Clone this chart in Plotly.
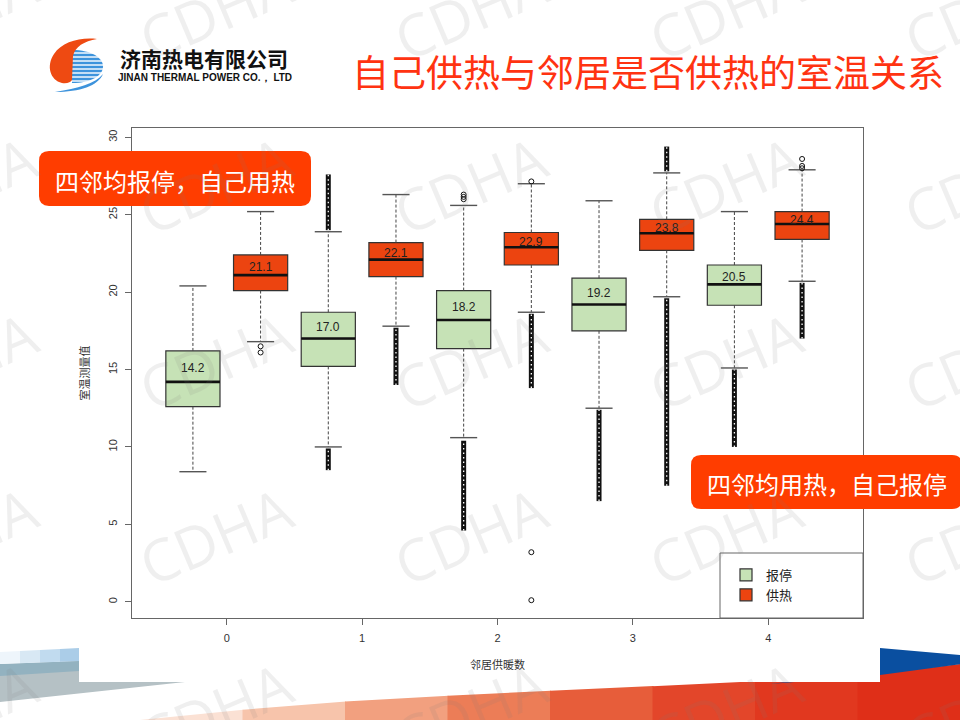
import numpy as np
import plotly.graph_objects as go

# ---------------- data ----------------
groups = [0, 1, 2, 3, 4]
tick_text = ["0", "1", "2", "3", "4"]
series_names = ["报停", "供热"]

stop_q1 = [12.6, 15.2, 16.35, 17.5, 19.15]
stop_median = [14.2, 17.0, 18.2, 19.2, 20.5]
stop_q3 = [16.2, 18.7, 20.1, 20.9, 21.75]
stop_low = [8.4, 10.0, 10.6, 12.5, 15.1]
stop_high = [20.4, 23.9, 25.6, 25.9, 25.2]

heat_q1 = [20.1, 21.0, 21.75, 22.7, 23.4]
heat_median = [21.1, 22.1, 22.9, 23.8, 24.4]
heat_q3 = [22.4, 23.2, 23.85, 24.7, 25.2]
heat_low = [16.8, 17.8, 18.7, 19.7, 20.7]
heat_high = [25.2, 26.3, 27.0, 27.7, 27.9]

# dense runs of outliers (group, lowest, highest)
stop_run_group = [1, 1, 2, 3, 4]
stop_run_lo = [24.0, 8.5, 4.6, 6.5, 10.0]
stop_run_hi = [27.6, 9.9, 10.4, 12.4, 15.0]
heat_run_group = [1, 2, 3, 3, 4]
heat_run_lo = [14.0, 13.8, 7.5, 27.8, 17.0]
heat_run_hi = [17.7, 18.6, 19.6, 29.4, 20.6]

# isolated outliers
stop_pt_group = [2, 2, 2]
stop_pt_y = [26.0, 26.15, 26.3]
heat_pt_group = [0, 0, 2, 2, 2, 4, 4, 4]
heat_pt_y = [16.1, 16.5, 27.15, 3.2, 0.1, 28.0, 28.15, 28.6]

# ---------------- styling ----------------
GREEN = "#C6E2B6"
RED = "#EC4410"
CJK = "Noto Sans CJK SC"
LAT = "Liberation Sans, Arial, sans-serif"
OFF = 0.25
BOXW = 0.4
CAPW = 0.2

# plot area in pixels (for decoration helpers)
PL, PT, PR, PB = 132, 128, 863, 618
PW, PH = PR - PL, PB - PT


def px(x):
    return (x - PL) / PW


def py(y):
    return (PB - y) / PH


def pathp(cmds):
    out = []
    for c in cmds:
        op = c[0]
        pts = " ".join(f"{px(a):.5f},{py(b):.5f}" for a, b in c[1:])
        out.append(op + pts)
    return " ".join(out)


def rrect(x0, y0, x1, y1, r):
    return pathp([
        ("M", (x0 + r, y0)), ("L", (x1 - r, y0)), ("Q", (x1, y0), (x1, y0 + r)),
        ("L", (x1, y1 - r)), ("Q", (x1, y1), (x1 - r, y1)), ("L", (x0 + r, y1)),
        ("Q", (x0, y1), (x0, y1 - r)), ("L", (x0, y0 + r)), ("Q", (x0, y0), (x0 + r, y0)),
    ]) + " Z"


def txt(cx, cy, text, font, angle=0):
    return dict(xref="paper", yref="paper", x=px(cx), y=py(cy), text=text, showarrow=False,
                xanchor="center", yanchor="middle", textangle=angle, font=font)


fig = go.Figure()

series = [
    (series_names[0], -OFF, GREEN, stop_q1, stop_median, stop_q3, stop_low, stop_high,
     stop_run_group, stop_run_lo, stop_run_hi, stop_pt_group, stop_pt_y),
    (series_names[1], OFF, RED, heat_q1, heat_median, heat_q3, heat_low, heat_high,
     heat_run_group, heat_run_lo, heat_run_hi, heat_pt_group, heat_pt_y),
]

annotations = []

for (name, off, col, q1, med, q3, lo, hi, rg, rlo, rhi, pg, pyv) in series:
    xs = [g + off for g in groups]
    fig.add_trace(go.Box(
        x=xs, q1=q1, median=med, q3=q3, lowerfence=q1, upperfence=q3,
        name=name, fillcolor=col, line=dict(color="#333333", width=1.2),
        width=BOXW, hoverinfo="skip", showlegend=True,
    ))

for (name, off, col, q1, med, q3, lo, hi, rg, rlo, rhi, pg, pyv) in series:
    xs = [g + off for g in groups]
    # dashed whiskers
    wx, wy = [], []
    for x, a, b, c, d in zip(xs, q1, q3, lo, hi):
        wx += [x, x, None, x, x, None]
        wy += [b, d, None, a, c, None]
    fig.add_trace(go.Scatter(x=wx, y=wy, mode="lines", showlegend=False, hoverinfo="skip",
                             line=dict(color="#444444", width=1, dash="3px,2px")))
    # caps
    cx, cy = [], []
    for x, c, d in zip(xs, lo, hi):
        cx += [x - CAPW / 2, x + CAPW / 2, None, x - CAPW / 2, x + CAPW / 2, None]
        cy += [d, d, None, c, c, None]
    fig.add_trace(go.Scatter(x=cx, y=cy, mode="lines", showlegend=False, hoverinfo="skip",
                             line=dict(color="#555555", width=1.4)))
    # medians
    mx, my = [], []
    for x, m in zip(xs, med):
        mx += [x - BOXW / 2, x + BOXW / 2, None]
        my += [m, m, None]
    fig.add_trace(go.Scatter(x=mx, y=my, mode="lines", showlegend=False, hoverinfo="skip",
                             line=dict(color="#111111", width=2.6)))
    # dense outlier runs
    ox, oy = [], []
    for g, a, b in zip(rg, rlo, rhi):
        ox += [g + off, g + off, None]
        oy += [a, b, None]
    fig.add_trace(go.Scatter(x=ox, y=oy, mode="lines", showlegend=False, hoverinfo="skip",
                             line=dict(color="#111111", width=5)))
    fig.add_trace(go.Scatter(x=ox, y=oy, mode="lines", showlegend=False, hoverinfo="skip",
                             line=dict(color="#ffffff", width=1.3, dash="1.5px,3px")))
    # isolated outliers
    fig.add_trace(go.Scatter(x=[g + off for g in pg], y=pyv, mode="markers", showlegend=False,
                             hoverinfo="skip",
                             marker=dict(symbol="circle-open", size=5, color="#111111",
                                         line=dict(width=1))))
    # median labels
    for x, m, t in zip(xs, med, q3):
        annotations.append(dict(x=x, y=(m + t) / 2, xref="x", yref="y", text=f"{m:.1f}",
                                showarrow=False, yshift=-2, xanchor="center", yanchor="middle",
                                font=dict(family=LAT, size=12, color="#222222")))

# ---------------- decorations ----------------
shapes = []

# bottom-left bands
lb = [("#eef5fb", 0, 20), ("#d8e8f4", 20, 40), ("#c1dbef", 40, 60), ("#abcde8", 60, 79)]
shapes.append(dict(type="path", xref="paper", yref="paper", layer="below", line=dict(width=0),
                   fillcolor="#b5c1c5",
                   path=pathp([("M", (0, 664)), ("L", (79, 661)), ("L", (79, 682)),
                               ("L", (185, 682)), ("L", (0, 702))]) + " Z"))
shapes.append(dict(type="path", xref="paper", yref="paper", layer="below", line=dict(width=0),
                   fillcolor="#93b2c0",
                   path=pathp([("M", (0, 664)), ("L", (79, 661)), ("L", (79, 671)),
                               ("L", (0, 676))]) + " Z"))
for c, a, b in lb:
    ta = 652 - 4 * a / 79
    tb = 652 - 4 * b / 79
    ba = 664 - 3 * a / 79
    bb = 664 - 3 * b / 79
    shapes.append(dict(type="path", xref="paper", yref="paper", layer="below", line=dict(width=0),
                       fillcolor=c,
                       path=pathp([("M", (a, ta)), ("L", (b, tb)), ("L", (b, bb)), ("L", (a, ba))]) + " Z"))

# bottom-right red/orange swoosh (sliced to imitate gradient)
edge_x = [140, 300, 480, 700, 880, 960]
edge_y = [720, 704, 694, 684, 675, 664]
red_cols = ["#fbe1d4", "#f7c4ab", "#f2a07f", "#ec7d57", "#e75d3a", "#e3462a", "#e1381f", "#df2f18"]
cuts = np.linspace(140, 960, len(red_cols) + 1)
for i, c in enumerate(red_cols):
    a, b = cuts[i], cuts[i + 1] + 1
    ta, tb = np.interp(a, edge_x, edge_y), np.interp(b, edge_x, edge_y)
    shapes.append(dict(type="path", xref="paper", yref="paper", layer="below", line=dict(width=0),
                       fillcolor=c,
                       path=pathp([("M", (a, ta)), ("L", (b, tb)), ("L", (b, 721)), ("L", (a, 721))]) + " Z"))
shapes.append(dict(type="path", xref="paper", yref="paper", layer="below", line=dict(width=0),
                   fillcolor="#0a4fa0",
                   path=pathp([("M", (880, 648)), ("L", (961, 655)), ("L", (961, 664)),
                               ("L", (880, 675)), ("L", (770, 684)), ("L", (880, 671))]) + " Z"))
# white panel of the chart picture
shapes.append(dict(type="rect", xref="paper", yref="paper", layer="below", line=dict(width=0),
                   fillcolor="#ffffff", x0=px(79), x1=px(880), y0=py(682), y1=py(640)))

# logo
shapes.append(dict(type="path", xref="paper", yref="paper", layer="above", line=dict(width=0),
                   fillcolor="#3d93dc",
                   path=pathp([("M", (72, 50)), ("C", (92, 50), (103, 58), (103, 66.5)),
                               ("C", (103, 75), (92, 83), (72, 83))]) + " Z"))
for yy in [53, 57, 61, 65, 69, 73, 77, 81]:
    shapes.append(dict(type="line", xref="paper", yref="paper", layer="above",
                       line=dict(color="#ffffff", width=1.4),
                       x0=px(72), x1=px(104), y0=py(yy), y1=py(yy)))
shapes.append(dict(type="path", xref="paper", yref="paper", layer="above", line=dict(width=0),
                   fillcolor="#3d93dc",
                   path=pathp([("M", (103, 74)), ("C", (98, 86), (80, 92), (55, 92)),
                               ("C", (78, 88), (95, 84), (103, 74))]) + " Z"))
shapes.append(dict(type="path", xref="paper", yref="paper", layer="above", line=dict(width=0),
                   fillcolor="#ee4a12",
                   path=pathp([("M", (97, 39)), ("C", (80, 37), (62, 42), (54, 54)),
                               ("C", (46, 66), (50, 80), (62, 83)),
                               ("C", (67, 84), (71, 82), (72, 80)),
                               ("L", (73, 56)), ("C", (75, 47), (84, 41), (97, 39))]) + " Z"))

# legend frame (R-style legend box in the lower-right corner)
shapes.append(dict(type="rect", xref="paper", yref="paper", layer="above",
                   line=dict(color="#666666", width=1), fillcolor="#ffffff",
                   x0=px(720), x1=px(863), y0=py(618), y1=py(553)))

# callouts
shapes.append(dict(type="path", xref="paper", yref="paper", layer="above", line=dict(width=0),
                   fillcolor="#FF3D00", path=rrect(39, 151, 311, 206, 10)))
shapes.append(dict(type="path", xref="paper", yref="paper", layer="above", line=dict(width=0),
                   fillcolor="#FF3D00", path=rrect(691, 455, 962, 509, 10)))

annotations += [
    txt(204, 58, "<b>济南热电有限公司</b>", dict(family=CJK, size=21, color="#111111")),
    txt(205, 77, "<b>JINAN THERMAL POWER CO.， LTD</b>", dict(family=LAT, size=10, color="#111111")),
    txt(648, 71, "自己供热与邻居是否供热的室温关系", dict(family=CJK, size=37, color="#FF3311")),
    txt(175, 180, "四邻均报停，自己用热", dict(family=CJK, size=24, color="#ffffff")),
    txt(827, 483, "四邻均用热，自己报停", dict(family=CJK, size=24, color="#ffffff")),
]

# watermark grid
for cx in [-40, 215, 470, 725, 980]:
    for cy in [10, 185, 360, 535, 710]:
        annotations.append(txt(cx, cy, "CDHA",
                               dict(family="Open Sans, sans-serif", size=58,
                                    color="rgba(120,120,120,0.12)"), angle=-23))

fig.update_layout(
    width=960, height=720,
    margin=dict(l=PL, r=960 - PR, t=PT, b=720 - PB, autoexpand=False),
    paper_bgcolor="#ffffff", plot_bgcolor="rgba(0,0,0,0)",
    boxmode="overlay",
    shapes=shapes, annotations=annotations,
    showlegend=True,
    legend=dict(x=px(726), y=py(560), xanchor="left", yanchor="top", bgcolor="rgba(0,0,0,0)",
                borderwidth=0, font=dict(family=CJK, size=13, color="#222222"),
                tracegroupgap=0, itemwidth=30),
    font=dict(family=LAT, color="#333333"),
)
fig.update_xaxes(range=[-0.7, 4.7], tickvals=groups, ticktext=tick_text, showline=True, mirror=True,
                 linecolor="#666666", linewidth=1, ticks="outside", ticklen=6, tickcolor="#666666",
                 showgrid=False, zeroline=False, tickfont=dict(size=11, color="#333333"),
                 ticklabelstandoff=4,
                 title=dict(text="邻居供暖数", font=dict(family=CJK, size=11, color="#333333"), standoff=18),
                 automargin=False)
fig.update_yaxes(range=[-1.05, 30.6], tickvals=[0, 5, 10, 15, 20, 25, 30], showline=True, mirror=True,
                 linecolor="#666666", linewidth=1, ticks="outside", ticklen=6, tickcolor="#666666",
                 showgrid=False, zeroline=False, tickangle=-90, tickfont=dict(size=11, color="#333333"),
                 ticklabelstandoff=4,
                 title=dict(text="室温测量值", font=dict(family=CJK, size=11, color="#333333"), standoff=14),
                 automargin=False)

fig.write_html("out.html", config={"displayModeBar": False},
               post_script="document.body.style.margin='0';")
